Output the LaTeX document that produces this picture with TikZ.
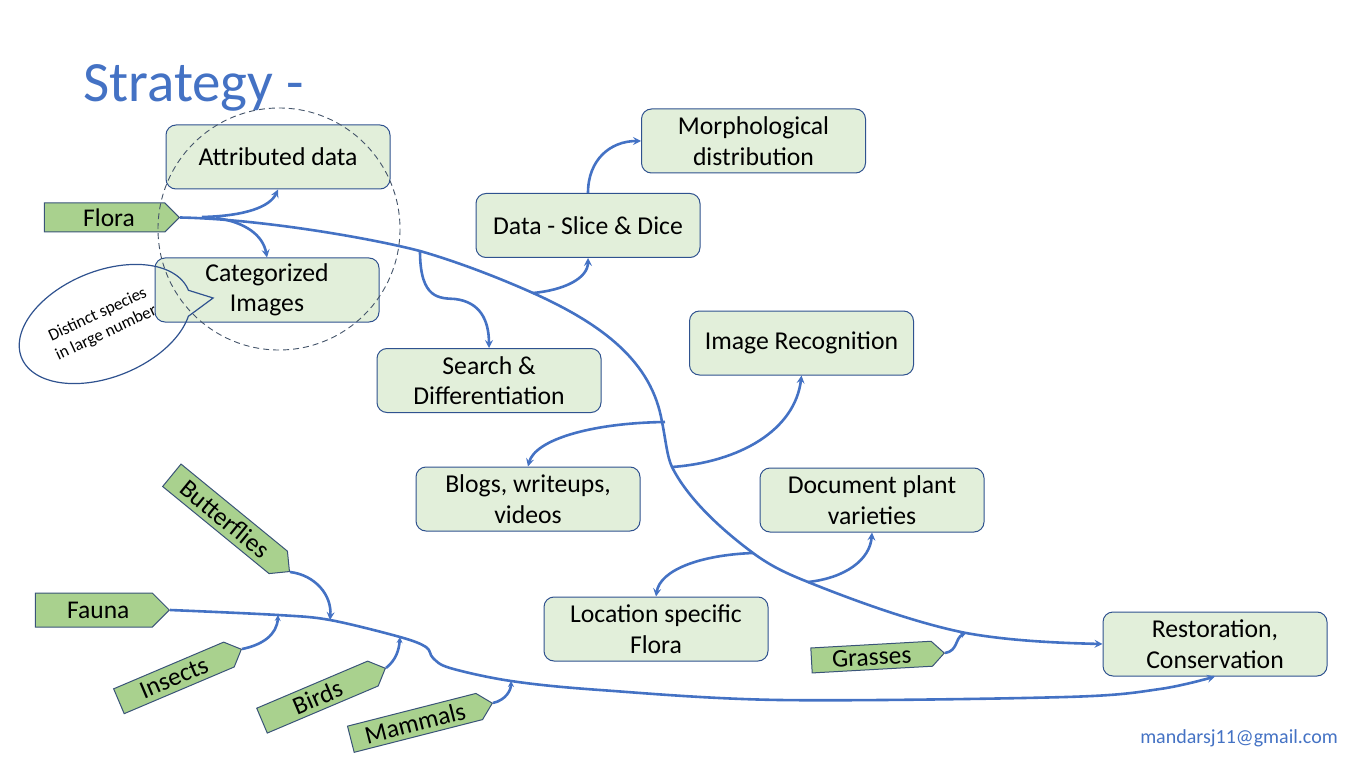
\documentclass[tikz,border=0pt]{standalone}
\usepackage{fontspec}
\setmainfont{Carlito}
\usetikzlibrary{arrows.meta,shapes.symbols}
\definecolor{lineblue}{HTML}{4472C4}
\definecolor{boxfill}{HTML}{E2EFDA}
\definecolor{boxline}{HTML}{2F528F}
\definecolor{tagfill}{HTML}{A9D18E}
\definecolor{tagline}{HTML}{3A5478}
\definecolor{dashc}{HTML}{44546A}
\begin{document}
\begin{tikzpicture}[x=1pt,y=-1pt,
  box/.style={draw=boxline, fill=boxfill, rounded corners=10pt, line width=1pt,
    minimum width=224pt, minimum height=64pt, align=center,
    font=\fontsize{25.7}{30.5}\selectfont, inner sep=2pt},
  tag/.style={signal, signal to=east, signal pointer angle=90, draw=tagline,
    fill=tagfill, line width=1pt, font=\fontsize{25.5}{29}\selectfont,
    inner sep=0pt, anchor=east},
  conn/.style={draw=lineblue, line width=2.6pt},
  arr/.style={conn, -{Stealth[length=8pt,width=8pt,inset=3pt]}},
  smallarr/.style={conn, -{Stealth[length=6pt,width=6pt,inset=2pt]}},
]
\useasboundingbox (0,0) rectangle (1371,770);

% title and signature
\node[anchor=base west, text=lineblue, font=\fontsize{57}{60}\selectfont, inner sep=0pt] (title) at (83,102) {Strategy -};
\node[anchor=base east, text=lineblue, font=\fontsize{20}{24}\selectfont, inner sep=0pt] (email) at (1338,743) {mandarsj11@gmail.com};

% boxes
\node[box] (attr) at (278,157) {Attributed data};
\node[box] (categ) at (267,290) {Categorized\\Images};
\node[box] (data) at (588,225.5) {Data - Slice \& Dice};
\node[box] (morph) at (753.5,141) {Morphological\\distribution};
\node[box] (search) at (489,380.5) {Search \&\\Differentiation};
\node[box] (imgrec) at (801.5,343) {Image Recognition};
\node[box] (blogs) at (528,499) {Blogs, writeups,\\videos};
\node[box] (doc) at (872,500) {Document plant\\varieties};
\node[box] (loc) at (656,629) {Location specific\\Flora};
\node[box] (rest) at (1215,644) {Restoration,\\Conservation};

% tags
\node[tag, minimum width=135pt, minimum height=29pt] (flora) at (180,217.5) {\hspace*{9pt}Flora};
\node[tag, minimum width=134pt, minimum height=34pt] (fauna) at (170,610) {\hspace*{9pt}Fauna};
\node[tag, minimum width=152pt, minimum height=29pt, rotate=-39.3] (butterflies) at (290,572) {Butterflies};
\node[tag, minimum width=133pt, minimum height=27pt, rotate=23] (insects) at (242,649) {Insects};
\node[tag, minimum width=134pt, minimum height=27pt, rotate=23] (birds) at (386,668) {Birds};
\node[tag, minimum width=146pt, minimum height=27pt, rotate=14.3] (mammals) at (493,703) {Mammals};
\node[tag, minimum width=133pt, minimum height=25pt, rotate=3.2] (grasses) at (945,653) {Grasses};

% junction points
\coordinate (fa) at (202,217);
\coordinate (fc) at (216,218);
\coordinate (js) at (420,251);
\coordinate (jd) at (533,293);
\coordinate (jb) at (662,422);
\coordinate (jbx) at (665,422);
\coordinate (ji) at (672,467);
\coordinate (jl) at (753,553);
\coordinate (jdoc) at (808,582);
\coordinate (jg) at (966,633);
\coordinate (jin) at (278,615);
\coordinate (jbf) at (330,620);
\coordinate (jbi) at (400,637);
\coordinate (jma) at (511,681);

% flora main line
\draw[arr] (flora.east) .. controls (260,219) and (370,238) .. (js)
  .. controls (458,262) and (497,277) .. (jd)
  .. controls (603,324.5) and (652,362) .. (jb)
  .. controls (665.3,437) and (667,457) .. (ji)
  .. controls (687,497) and (718,527) .. (jl)
  .. controls (772,567) and (788,574) .. (jdoc)
  .. controls (860,603) and (920,624) .. (jg)
  .. controls (1010,641) and (1060,643) .. (rest.west);
% fauna main line
\draw[arr] plot[smooth, tension=0.55] coordinates {(fauna.east) (jin) (jbf) (jbi) (426,647) (433,658) (450,668) (jma) (600,690) (780,700) (1066,697) (1160,689) (rest.south)};

% flora branches
\draw[arr] (fa) .. controls (245,216) and (270,207) .. (attr.south);
\draw[arr] (fc) .. controls (245,222) and (263,235) .. (categ.north);
\draw[arr] (js) .. controls (420,300) and (440,298) .. (455,299) .. controls (480,302) and (489,320) .. (search.north);
\draw[arr] (jd) .. controls (565,290) and (588,278) .. (data.south);
\draw[arr] (data.north) .. controls (588,160) and (610,141) .. (morph.west);
\draw[arr] (jbx) .. controls (590,423) and (535,440) .. (blogs.north);
\draw[arr] (ji) .. controls (740,462) and (795,430) .. (imgrec.south);
\draw[arr] (jl) .. controls (700,555) and (660,570) .. (loc.north);
\draw[arr] (jdoc) .. controls (845,578) and (870,560) .. (doc.south);
\draw[smallarr] (grasses.east) .. controls (958,651) and (955,638) .. (jg);

% fauna branches
\draw[arr] (butterflies.east) .. controls (315,575) and (332,595) .. (jbf);
\draw[smallarr] (insects.east) .. controls (262,645) and (277,635) .. (jin);
\draw[smallarr] (birds.east) .. controls (396,660) and (399,650) .. (jbi);
\draw[smallarr] (mammals.east) .. controls (506,700) and (511,690) .. (jma);

% dashed circle
\draw[dashc, line width=0.9pt, dash pattern=on 6pt off 4pt] (279,229) circle[radius=121];

% callout
\draw[boxline, line width=1.2pt, shift={(105,324)}, rotate=22] plot[domain=27:360, samples=120] ({90*cos(\x)},{53*sin(\x)}) -- (110,16.4) -- cycle;
\node[rotate=25, font=\fontsize{17}{20}\selectfont, align=center, inner sep=0pt] (calltext) at (102,324) {Distinct species\\in large number};
\end{tikzpicture}
\end{document}
